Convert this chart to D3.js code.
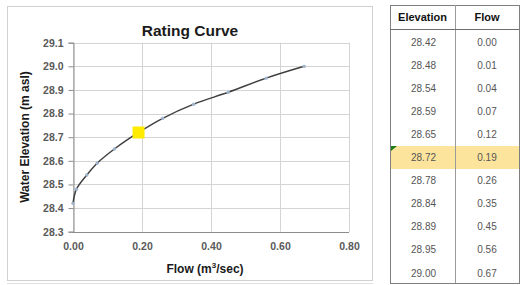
<!DOCTYPE html>
<html><head><meta charset="utf-8">
<script src="https://cdn.jsdelivr.net/npm/d3@7"></script>
<style>body{margin:0;background:#fff}svg{display:block}</style>
</head><body><svg id="c" width="523" height="285"></svg>
<script>
const elevation = [28.42, 28.48, 28.54, 28.59, 28.65, 28.72, 28.78, 28.84, 28.89, 28.95, 29.00];
const flow = [0.00, 0.01, 0.04, 0.07, 0.12, 0.19, 0.26, 0.35, 0.45, 0.56, 0.67];
const elevationLabels = ["28.42","28.48","28.54","28.59","28.65","28.72","28.78","28.84","28.89","28.95","29.00"];
const flowLabels = ["0.00","0.01","0.04","0.07","0.12","0.19","0.26","0.35","0.45","0.56","0.67"];
const highlightIndex = 5;
const xTicks = [0, 0.2, 0.4, 0.6, 0.8];
const yTicks = [28.3, 28.4, 28.5, 28.6, 28.7, 28.8, 28.9, 29.0, 29.1];
const headers = ["Elevation", "Flow"];

const svg = d3.select("#c");
const font = "'Liberation Sans', Arial, sans-serif";

// chart frame
svg.append("rect").attr("x",7.5).attr("y",6.5).attr("width",365).attr("height",274)
  .attr("fill","#fff").attr("stroke","#d0d0d0");
svg.append("line").attr("x1",7).attr("x2",373).attr("y1",283.5).attr("y2",283.5).attr("stroke","#e0e0e0");

const x = d3.scaleLinear().domain([0,0.8]).range([73,349]);
const y = d3.scaleLinear().domain([28.3,29.1]).range([231.7,42.7]);

// gridlines
const g = svg.append("g");
g.selectAll(".hg").data(yTicks).enter().append("line")
  .attr("x1",x(0)).attr("x2",x(0.8)).attr("y1",d=>Math.round(y(d))+0.5).attr("y2",d=>Math.round(y(d))+0.5)
  .attr("stroke","#d4d4d4");
g.selectAll(".vg").data(xTicks).enter().append("line")
  .attr("y1",y(29.1)).attr("y2",y(28.3)).attr("x1",d=>Math.round(x(d))+0.5).attr("x2",d=>Math.round(x(d))+0.5)
  .attr("stroke","#d4d4d4");

// axes
const yAxis = d3.axisLeft(y).tickValues(yTicks).tickFormat(d3.format(".1f")).tickSize(5).tickPadding(5);
const xAxis = d3.axisBottom(x).tickValues(xTicks).tickFormat(d3.format(".2f")).tickSize(0).tickPadding(10);
const ya = svg.append("g").attr("transform",`translate(${Math.round(x(0))+0.5},0)`).call(yAxis);
const xa = svg.append("g").attr("transform",`translate(0,${Math.round(y(28.3))+0.5})`).call(xAxis);
[ya,xa].forEach(a=>{
  a.select(".domain").attr("stroke","#8c8c8c");
  a.selectAll(".tick line").attr("stroke","#8c8c8c");
  a.selectAll("text").attr("font-family",font).attr("font-size","10.5px").attr("font-weight","bold").attr("fill","#595959");
});
xa.select(".domain").remove();
xa.append("line").attr("x1",x(0)).attr("x2",x(0.8)).attr("stroke","#8c8c8c");

// curve
const pts = flow.map((f,i)=>[f, elevation[i]]);
svg.append("path").datum(pts)
  .attr("d", d3.line().x(d=>x(d[0])).y(d=>y(d[1])).curve(d3.curveCatmullRom))
  .attr("fill","none").attr("stroke","#404040").attr("stroke-width",1.5);
svg.selectAll(".pt").data(pts).enter().append("circle")
  .attr("cx",d=>x(d[0])).attr("cy",d=>y(d[1])).attr("r",1.7)
  .attr("fill","#9db2cc");
// highlight marker
const hp = pts[highlightIndex];
svg.append("rect").attr("x",x(hp[0])-6).attr("y",y(hp[1])-6).attr("width",12).attr("height",12)
  .attr("fill","#ffeb00");

// titles
svg.append("text").attr("x",190).attr("y",36).attr("text-anchor","middle")
  .attr("font-family",font).attr("font-size","15.5px").attr("font-weight","bold").attr("fill","#1a1a1a").text("Rating Curve");
svg.append("text").attr("transform","translate(29,137) rotate(-90)").attr("text-anchor","middle")
  .attr("font-family",font).attr("font-size","12px").attr("font-weight","bold").attr("fill","#1a1a1a").text("Water Elevation (m asl)");
const xt = svg.append("text").attr("x",205).attr("y",273).attr("text-anchor","middle")
  .attr("font-family",font).attr("font-size","12px").attr("font-weight","bold").attr("fill","#1a1a1a");
xt.append("tspan").text("Flow (m");
xt.append("tspan").attr("font-size","8px").attr("dy",-5).text("3");
xt.append("tspan").attr("dy",5).text("/sec)");

// table
const tL = 390, tM = 455, tR = 519, tT = 5, tH = 29, tB = 283;
const rowY = d3.scaleLinear().domain([0, elevation.length-1]).range([42, 273]);
const t = svg.append("g");
t.append("rect").attr("x",tL+0.5).attr("y",rowY(highlightIndex)-11.5).attr("width",tR-tL).attr("height",23)
  .attr("fill","#fde49c");
t.append("path").attr("d",`M${tL+1},${rowY(highlightIndex)-11.5} l6,0 l-6,5 z`).attr("fill","#1e7b1e");
t.append("rect").attr("x",tL+0.5).attr("y",tT+0.5).attr("width",tR-tL).attr("height",tB-tT)
  .attr("fill","none").attr("stroke","#7f7f7f");
t.append("line").attr("x1",tM+0.5).attr("x2",tM+0.5).attr("y1",tT).attr("y2",tB).attr("stroke","#9a9a9a");
t.append("line").attr("x1",tL).attr("x2",tR).attr("y1",tH+0.5).attr("y2",tH+0.5).attr("stroke","#6f6f6f");
t.selectAll(".hd").data(headers).enter().append("text")
  .attr("x",(d,i)=> i===0 ? (tL+tM)/2 : (tM+tR)/2).attr("y",21).attr("text-anchor","middle")
  .attr("font-family",font).attr("font-size","11px").attr("font-weight","bold").attr("fill","#111").text(d=>d);
t.selectAll(".ce").data(elevationLabels).enter().append("text")
  .attr("x",(tL+tM)/2+1).attr("y",(d,i)=>rowY(i)+3.5).attr("text-anchor","middle")
  .attr("font-family",font).attr("font-size","10px").attr("fill","#555").text(d=>d);
t.selectAll(".cf").data(flowLabels).enter().append("text")
  .attr("x",(tM+tR)/2).attr("y",(d,i)=>rowY(i)+3.5).attr("text-anchor","middle")
  .attr("font-family",font).attr("font-size","10px").attr("fill","#555").text(d=>d);
</script></body></html>
